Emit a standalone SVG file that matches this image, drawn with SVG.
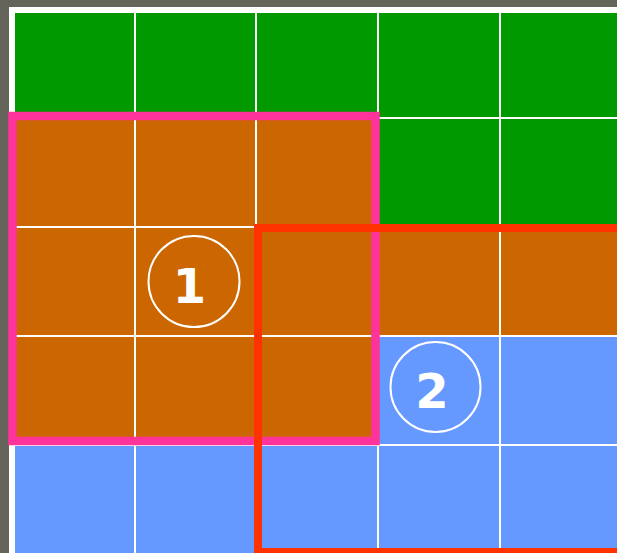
<svg xmlns="http://www.w3.org/2000/svg" width="617" height="553" viewBox="0 0 617 553">
  <style>
    .g { fill: #009900; }
    .o { fill: #CC6600; }
    .b { fill: #6699FF; }
    .ring { fill: none; stroke: #FFFFFF; stroke-width: 2; }
    .num { font-family: "DejaVu Sans", Verdana, sans-serif; font-weight: bold; font-size: 48px; fill: #FFFFFF; text-anchor: middle; }
  </style>
  <rect x="0" y="0" width="617" height="553" fill="#64645A"/>
  <rect x="9" y="7" width="620" height="560" fill="#FFFFFF"/>
  <g id="grid">
    <!-- row 1 -->
    <rect class="g" x="15" y="13" width="119" height="104"/>
    <rect class="g" x="136" y="13" width="119" height="104"/>
    <rect class="g" x="257" y="13" width="120" height="104"/>
    <rect class="g" x="379" y="13" width="120" height="104"/>
    <rect class="g" x="501" y="13" width="120" height="104"/>
    <!-- row 2 -->
    <rect class="o" x="15" y="119" width="119" height="107"/>
    <rect class="o" x="136" y="119" width="119" height="107"/>
    <rect class="o" x="257" y="119" width="120" height="107"/>
    <rect class="g" x="379" y="119" width="120" height="107"/>
    <rect class="g" x="501" y="119" width="120" height="107"/>
    <!-- row 3 -->
    <rect class="o" x="15" y="228" width="119" height="107"/>
    <rect class="o" x="136" y="228" width="119" height="107"/>
    <rect class="o" x="257" y="228" width="120" height="107"/>
    <rect class="o" x="379" y="228" width="120" height="107"/>
    <rect class="o" x="501" y="228" width="120" height="107"/>
    <!-- row 4 -->
    <rect class="o" x="15" y="337" width="119" height="107"/>
    <rect class="o" x="136" y="337" width="119" height="107"/>
    <rect class="o" x="257" y="337" width="120" height="107"/>
    <rect class="b" x="379" y="337" width="120" height="107"/>
    <rect class="b" x="501" y="337" width="120" height="107"/>
    <!-- row 5 -->
    <rect class="b" x="15" y="446" width="119" height="110"/>
    <rect class="b" x="136" y="446" width="119" height="110"/>
    <rect class="b" x="257" y="446" width="120" height="110"/>
    <rect class="b" x="379" y="446" width="120" height="110"/>
    <rect class="b" x="501" y="446" width="120" height="110"/>
  </g>
  <g id="region1">
    <rect x="12.5" y="116" width="363" height="325" fill="none" stroke="#FF3399" stroke-width="8.5"/>
    <circle class="ring" cx="194" cy="281.5" r="45.5"/>
    <text class="num" x="189.5" y="302.5">1</text>
  </g>
  <g id="region2">
    <rect x="258" y="228" width="363" height="324" fill="none" stroke="#FF3300" stroke-width="8"/>
    <circle class="ring" cx="435.5" cy="387" r="45"/>
    <text class="num" x="432" y="408">2</text>
  </g>
</svg>
